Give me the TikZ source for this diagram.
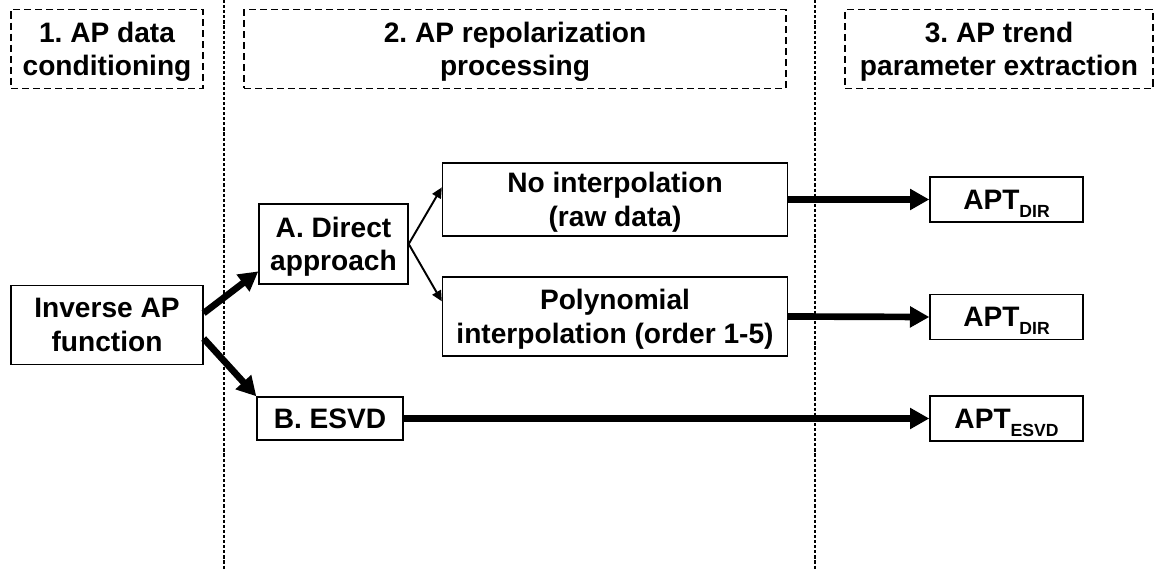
\documentclass[tikz,border=0pt]{standalone}
\usepackage{fontspec}
\setmainfont{Liberation Sans}
\usetikzlibrary{arrows.meta}
\usetikzlibrary{positioning}
\frenchspacing

\newcommand{\aptsub}[1]{\raisebox{-4.5pt}{\fontsize{10}{10}\selectfont #1}}

\begin{document}
\begin{tikzpicture}[x=0.02cm,y=-0.02cm,
  every node/.style={font=\fontsize{16}{19}\selectfont\bfseries, align=center, inner sep=0pt, text depth=0pt},
  stage/.style={draw, line width=0.8pt, dash pattern=on 4pt off 2.3pt, minimum height=1.58cm},
  block/.style={draw, line width=0.8pt},
  sep/.style={line width=0.6pt, dash pattern=on 1.8pt off 1.1pt},
  bigarrow/.style={line width=3.8pt, -{Triangle[length=11pt,width=11.5pt]}},
  smallarrow/.style={line width=1.1pt, -{Triangle[length=6pt,width=5.5pt]}}]
\useasboundingbox (0,0) rectangle (1155,570);

% stage separators
\draw[sep] (224,0) -- (224,570);
\draw[sep] (815,0) -- (815,570);

% stage headers
\node[stage, minimum width=3.84cm] (hd1) at (107,49) {1. AP data\\conditioning};
\node[stage, minimum width=10.84cm] (hd2) at (515,49) {2. AP repolarization\\processing};
\node[stage, minimum width=6.16cm] (hd3) at (999,49) {3. AP trend\\parameter extraction};

% processing blocks
\node[block, minimum width=3.84cm, minimum height=1.58cm] (inv) at (107,325) {Inverse AP\\function};
\node[block, minimum width=2.98cm, minimum height=1.6cm] (dir) at (333.5,244) {A. Direct\\approach};
\node[block, minimum width=2.92cm, minimum height=0.86cm] (esvd) at (330,418.5) {B. ESVD};
\node[block, minimum width=6.9cm, minimum height=1.46cm] (noi) at (615,199.5) {No interpolation\\(raw data)};
\node[block, minimum width=6.9cm, minimum height=1.58cm] (poly) at (615,316.5) {Polynomial\\interpolation (order 1-5)};

% trend parameters
\node[block, minimum width=3.06cm, minimum height=0.9cm] (apt1) at (1006.5,199.5) {APT\aptsub{DIR}};
\node[block, minimum width=3.06cm, minimum height=0.9cm] (apt2) at (1006.5,317) {APT\aptsub{DIR}};
\node[block, minimum width=3.06cm, minimum height=0.9cm] (apt3) at (1006.5,418.5) {APT\aptsub{ESVD}};

\draw[bigarrow] (inv.7) -- (dir.-160);
\draw[bigarrow] (inv.-8) -- (esvd.north west);
\draw[smallarrow] (dir.east) -- (noi.176);
\draw[smallarrow] (dir.east) -- (poly.175);
\draw[bigarrow] (noi.east) -- (apt1.west);
\draw[bigarrow] (poly.east) -- (apt2.west);
\draw[bigarrow] (esvd.east) -- (apt3.west);

\end{tikzpicture}
\end{document}
